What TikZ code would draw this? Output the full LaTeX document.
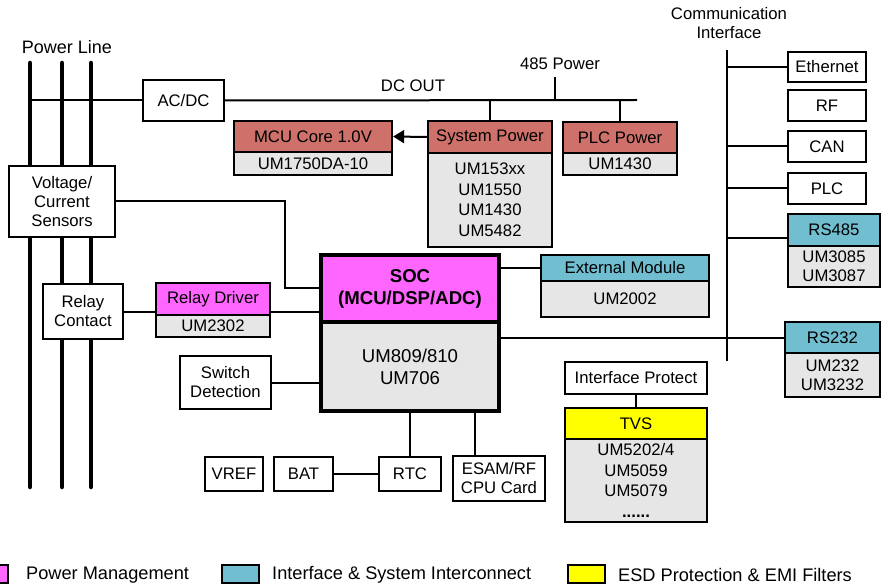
\documentclass[tikz,border=0pt]{standalone}
\usepackage{fontspec}
\setmainfont{Liberation Sans}
\usetikzlibrary{arrows.meta}
\definecolor{pmred}{RGB}{205,113,106}
\definecolor{socmag}{RGB}{255,102,255}
\definecolor{ifblue}{RGB}{112,190,208}
\definecolor{esdyel}{RGB}{255,255,0}
\definecolor{bodygray}{RGB}{230,230,230}
\newcommand\mybox[7]{\node[#1, minimum width={(#5-#3)*1pt}, minimum height={(#6-#4)*1pt}] (#2) at ({(#3+#5)/2},{(#4+#6)/2}) {#7};}
\begin{document}
\begin{tikzpicture}[x=1pt,y=-1pt, font=\fontsize{16.7}{20.5}\selectfont,
 box/.style={draw, line width=2.3pt, fill=white, inner sep=0pt, align=center},
 hdr/.style={box, fill=#1},
 bdy/.style={box, fill=bodygray},
 socbox/.style={draw, line width=4.5pt, inner sep=0pt, align=center, fill=#1, font=\fontsize{18.6}{22}\selectfont},
 conn/.style={line width=2pt},
 pline/.style={line width=4.5pt, line cap=round},
 lbl/.style={inner sep=0pt, align=center},
 legtext/.style={inner sep=0pt, anchor=west, font=\fontsize{18.2}{20}\selectfont}]
\useasboundingbox (0,0) rectangle (881,588);
% power lines
\coordinate (p1t) at (30,63); \coordinate (p1b) at (30,487);
\coordinate (p2t) at (62,63); \coordinate (p2b) at (62,487);
\coordinate (p3t) at (91,63); \coordinate (p3b) at (91,487);
\draw[pline] (p1t) -- (p1b);
\draw[pline] (p2t) -- (p2b);
\draw[pline] (p3t) -- (p3b);
\node[lbl, font=\fontsize{18}{20}\selectfont] (plabel) at (67,47) {Power Line};
% boxes
\mybox{box}{sens}{9}{166}{115}{237}{Voltage/\\[-1.5pt]Current\\[-1.5pt]Sensors}
\mybox{box}{acdc}{143}{80}{224}{121}{AC/DC}
\node[lbl] (dcout) at (413,86) {DC OUT};
\node[lbl] (p485lbl) at (560,64) {485 Power};
\mybox{hdr=pmred}{mcuh}{234}{121}{392}{152}{MCU Core 1.0V}
\mybox{bdy}{mcub}{234}{152}{392}{175}{UM1750DA-10}
\mybox{hdr=pmred}{sysh}{428}{121}{552}{153}{System Power}
\mybox{bdy}{sysb}{428}{153}{552}{247}{UM153xx\\UM1550\\UM1430\\UM5482}
\mybox{hdr=pmred}{plch}{563}{122}{677}{153}{PLC Power}
\mybox{bdy}{plcb}{563}{153}{677}{175}{UM1430}
% communication
\node[lbl, font=\fontsize{16.7}{19}\selectfont] (comlbl) at (729,23) {Communication\\Interface};
\coordinate (comt) at (727,50); \coordinate (comb) at (727,361);
\mybox{box}{eth}{788}{52}{866}{82}{Ethernet}
\mybox{box}{rf}{788}{90}{866}{121}{RF}
\mybox{box}{can}{788}{131}{866}{162}{CAN}
\mybox{box}{plc}{788}{173}{866}{204}{PLC}
\mybox{hdr=ifblue}{rs485h}{788}{214}{880}{246}{RS485}
\mybox{bdy}{rs485b}{788}{246}{880}{287}{UM3085\\[-1.5pt]UM3087}
\mybox{hdr=ifblue}{rs232h}{785}{322}{880}{353}{RS232}
\mybox{bdy}{rs232b}{785}{353}{880}{397}{UM232\\[-1.5pt]UM3232}
% SOC
\mybox{socbox=socmag}{soch}{321}{255}{499}{322}{\bfseries SOC\\\bfseries (MCU/DSP/ADC)}
\mybox{socbox=bodygray}{socb}{321}{322}{499}{411}{UM809/810\\UM706}
\mybox{hdr=ifblue}{exth}{541}{255}{709}{281}{External Module}
\mybox{bdy}{extb}{541}{281}{709}{317}{UM2002}
% left side
\mybox{box}{relay}{43}{284}{123}{339}{Relay\\[-1.5pt]Contact}
\mybox{hdr=socmag}{rdh}{156}{283}{270}{315}{Relay Driver}
\mybox{bdy}{rdb}{156}{315}{270}{337}{UM2302}
\mybox{box}{sw}{180}{356}{271}{409}{Switch\\[-1.5pt]Detection}
% bottom
\mybox{box}{vref}{205}{457}{263}{491}{VREF}
\mybox{box}{bat}{274}{457}{333}{491}{BAT}
\mybox{box}{rtc}{379}{457}{441}{491}{RTC}
\mybox{box}{esam}{453}{456}{545}{501}{ESAM/RF\\[-1.5pt]CPU Card}
\mybox{box}{ifp}{565}{362}{707}{394}{Interface Protect}
\mybox{hdr=esdyel}{tvsh}{565}{408}{707}{439}{TVS}
\mybox{bdy}{tvsb}{565}{439}{707}{522}{UM5202/4\\UM5059\\UM5079\\\textbf{......}}
% connectors
\coordinate (busend) at (637,100);
\coordinate (p485) at (555,77);
\coordinate (sensbend) at (285,288);
\coordinate (esamx) at (475,0);
\coordinate (rs485c) at (727,238);
\draw[conn] (p1t |- acdc.west) -- (acdc.west);
\draw[conn] (acdc.east) -- (busend);
\draw[conn] (p485) -- (p485 |- busend);
\draw[conn] (sysh.north) -- (sysh.north |- busend);
\draw[conn] (plch.north) -- (plch.north |- busend);
\draw[conn, -{Triangle[length=11pt,width=13pt]}] (sysh.west) -- (mcuh.east);
\draw[conn] (comt) -- (comb);
\draw[conn] (eth.west -| comt) -- (eth.west);
\draw[conn] (can.west -| comt) -- (can.west);
\draw[conn] (plc.west -| comt) -- (plc.west);
\draw[conn] (rs485c) -- (rs485c -| rs485h.west);
\draw[conn] (socb.east |- rs232h.west) -- (rs232h.west);
\draw[conn] (soch.east |- exth.west) -- (exth.west);
\draw[conn] (sens.east) -| (sensbend) -- (sensbend -| soch.west);
\draw[conn] (relay.east) -- (relay.east -| rdh.west);
\draw[conn] (relay.east -| rdh.east) -- (relay.east -| soch.west);
\draw[conn] (sw.east) -- (sw.east -| socb.west);
\draw[conn] (bat.east) -- (rtc.west);
\draw[conn] (rtc.north) -- (rtc.north |- socb.south);
\draw[conn] (esam.north -| esamx) -- (socb.south -| esamx);
\draw[conn] (ifp.south) -- (tvsh.north);
% legend
\mybox{box, fill=socmag}{legpm}{-29}{565}{8}{583}{}
\node[legtext] (legpmt) at (26,575) {Power Management};
\mybox{box, fill=ifblue}{legif}{222}{565}{259}{583}{}
\node[legtext] (legift) at (272,575) {Interface \& System Interconnect};
\mybox{box, fill=esdyel}{legesd}{568}{565}{605}{583}{}
\node[legtext] (legesdt) at (618,575) {ESD Protection \& EMI Filters};
\end{tikzpicture}
\end{document}
